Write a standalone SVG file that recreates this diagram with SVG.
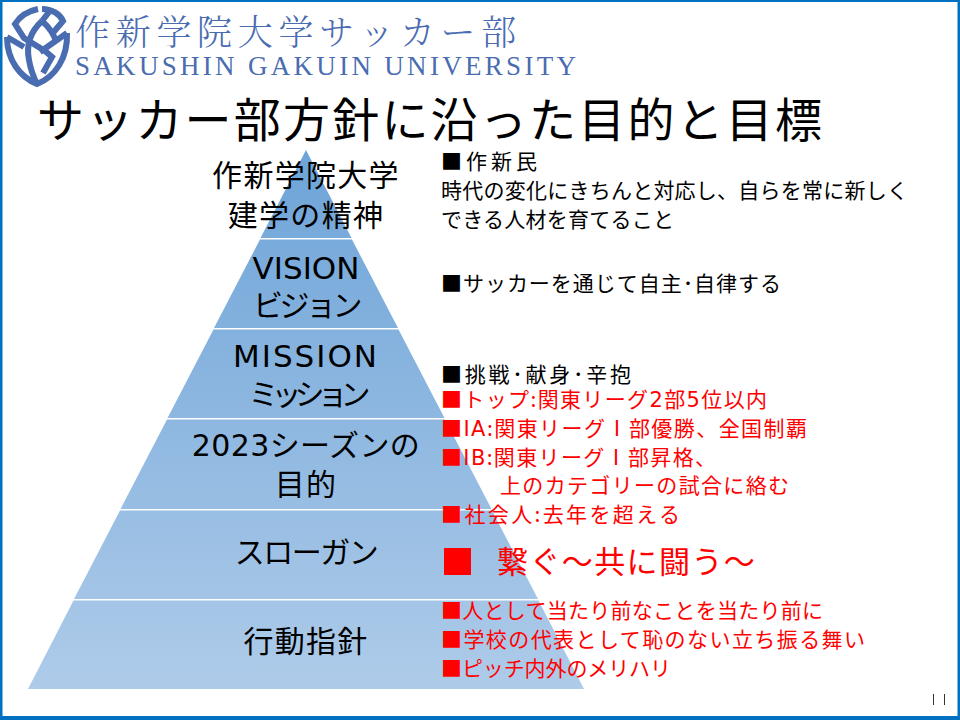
<svg xmlns="http://www.w3.org/2000/svg" width="960" height="720" viewBox="0 0 960 720">
<defs>
<style>
text{font-family:"Noto Sans CJK JP","Noto Sans",sans-serif}
.l{fill:#000;font-size:30px;text-anchor:middle;letter-spacing:1.3px}
.lat{font-family:"DejaVu Sans","Noto Sans CJK JP",sans-serif}
.b{fill:#000;font-size:21px}
.r{fill:#f00;font-size:21px}
.sq{fill:#f00}
.logo{fill:none;stroke:#4a6cb0;stroke-width:6}
</style>
<linearGradient id="pg" gradientUnits="userSpaceOnUse" x1="0" y1="150" x2="0" y2="689"><stop offset="0" stop-color="#6ea4d8"/><stop offset="1" stop-color="#aecbe9"/></linearGradient>
</defs>
<rect width="960" height="720" fill="#fff"/>
<path id="frame" fill="#0070c0" fill-rule="evenodd" d="M0 0H960V720H0ZM2.500 2V716H957.500V2Z"/>
<g id="logo" class="logo">
<path d="M7 37 C7 60 20 77 37 84 C55 77 68 58 67 33"/>
<path d="M38 9 C28 11 20 16 15 24 L24 38 L45 51 L52 57 L43 73"/>
<path d="M7 37 L24 47"/>
<path d="M42 21 C30 32 26 45 29 60 C31 72 35 80 37 84"/>
<path d="M42 21 C50 28 54 34 56 42"/>
<path d="M42 9 C52 9 60 14 63 21 L52 34"/>
<path d="M42 21 L49 12"/>
<path d="M40 52 L67 33"/>
</g>
<text id="logo-jp" x="75" y="45" font-size="35" letter-spacing="5.700" fill="#4a6cb0" style="font-family:'Noto Serif CJK JP','Noto Sans CJK JP',serif;font-weight:300">作新学院大学サッカー部</text>
<text id="logo-en" x="75" y="75" font-size="27" letter-spacing="3.300" fill="#4a6cb0" style="font-family:'Liberation Serif',serif">SAKUSHIN GAKUIN UNIVERSITY</text>
<text id="title" x="37" y="137" font-size="47" letter-spacing="2.200" fill="#000">サッカー部方針に沿った目的と目標</text>
<g id="pyramid" fill="url(#pg)" stroke="none">
<polygon id="p1" points="306,150 351.500,238 260.500,238"/>
<polygon id="p2" points="260,239.500 352,239.500 398,328 214,328"/>
<polygon id="p3" points="213.500,329.500 398.500,329.500 444.500,418 167.500,418"/>
<polygon id="p4" points="167,419.500 445,419.500 491.500,509 120.500,509"/>
<polygon id="p5" points="120,510.500 492,510.500 538,599 74,599"/>
<polygon id="p6" points="73.500,600.500 538.500,600.500 584,689 28,689"/>
</g>
<g id="labels">
<text class="l" x="306" y="186">作新学院大学</text>
<text class="l" x="306" y="226">建学の精神</text>
<text class="l lat" x="306" y="279" style="font-size:31px;letter-spacing:0">VISION</text>
<text class="l" x="306" y="316" style="letter-spacing:-3.500px">ビジョン</text>
<text class="l lat" x="306" y="367" style="font-size:31px;letter-spacing:2px">MISSION</text>
<text class="l" x="306" y="405" style="letter-spacing:-7px">ミッション</text>
<text class="l" x="306" y="456" style="letter-spacing:.4px"><tspan class="lat">2023</tspan>シーズンの</text>
<text class="l" x="306" y="495">目的</text>
<text class="l" x="306" y="563" style="letter-spacing:-1.500px">スローガン</text>
<text class="l" x="306" y="652">行動指針</text>
</g>
<g id="text-right">
<text class="b" x="441" y="169" textLength="96">■作新民</text>
<text class="b" x="441" y="198" textLength="467">時代の変化にきちんと対応し、自らを常に新しく</text>
<text class="b" x="441" y="227" textLength="233">できる人材を育てること</text>
<text class="b" x="441" y="291" textLength="340">■サッカーを通じて自主･自律する</text>
<text class="b" x="441" y="382" textLength="190">■挑戦･献身･辛抱</text>
<text class="r" x="441" y="407" textLength="326">■トップ:関東リーグ<tspan class="lat">2</tspan>部<tspan class="lat">5</tspan>位以内</text>
<text class="r" x="441" y="436" textLength="366">■<tspan class="lat">IA</tspan>:関東リーグⅠ部優勝、全国制覇</text>
<text class="r" x="441" y="465" textLength="275">■<tspan class="lat">IB</tspan>:関東リーグⅠ部昇格、</text>
<text class="r" x="500" y="493" textLength="289">上のカテゴリーの試合に絡む</text>
<text class="r" x="441" y="522" textLength="239">■社会人:去年を超える</text>
<rect class="sq" x="444" y="548" width="27" height="27"/>
<text class="r" x="497" y="573" style="font-size:31px;letter-spacing:1.400px">繋ぐ～共に闘う～</text>
<text class="r" x="441" y="618" textLength="382">■人として当たり前なことを当たり前に</text>
<text class="r" x="441" y="647" textLength="424">■学校の代表として恥のない立ち振る舞い</text>
<text class="r" x="441" y="676" textLength="230">■ピッチ内外のメリハリ</text>
</g>
<g id="page" fill="#333"><rect x="933" y="694" width="1" height="11"/><rect x="944" y="694" width="1" height="11"/></g>
</svg>
